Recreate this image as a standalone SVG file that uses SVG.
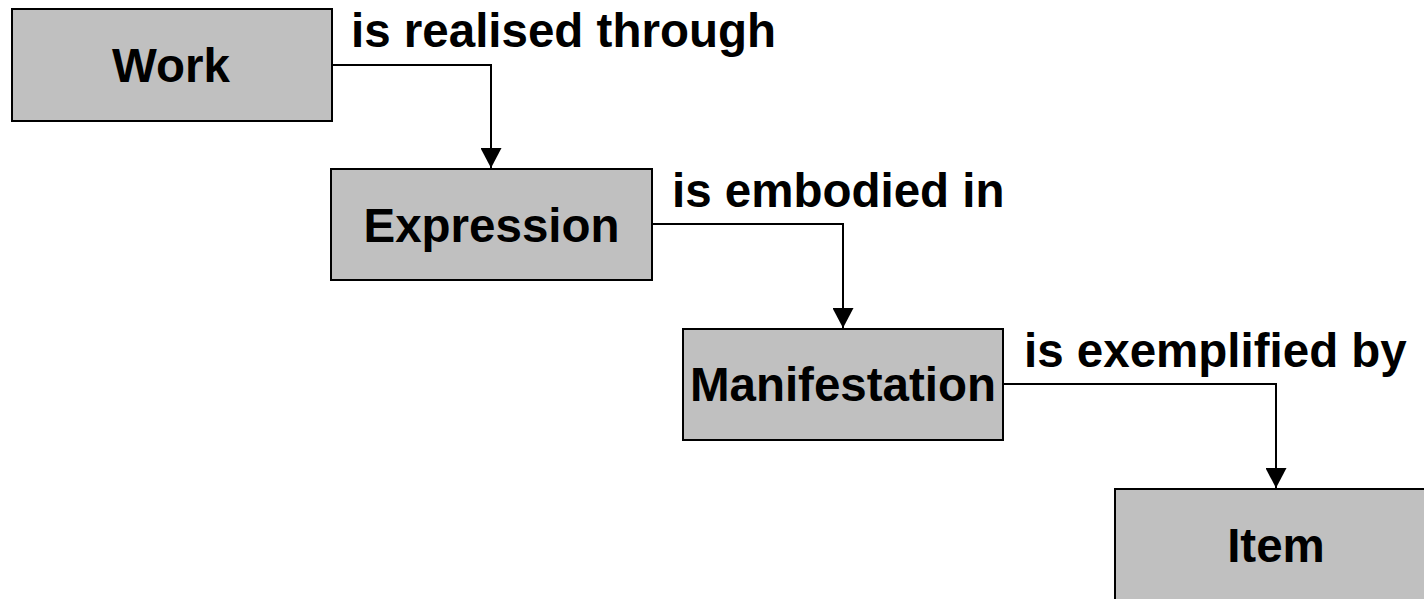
<svg xmlns="http://www.w3.org/2000/svg" width="1424" height="599" viewBox="0 0 1424 599">
<style>
.box{fill:#c0c0c0;stroke:#000;stroke-width:2}
.t{font-family:"Liberation Sans",Arial,sans-serif;font-weight:bold;font-size:47.5px;fill:#000}
.c{text-anchor:middle}
.edge{fill:none;stroke:#000;stroke-width:2}
</style>
<defs>
<marker id="arr" markerUnits="userSpaceOnUse" markerWidth="21" markerHeight="21" viewBox="0 0 20 21" refX="20" refY="10.5" orient="auto">
<path d="M0,0 L20,10.5 L0,21 z" fill="#000"/>
</marker>
</defs>
<rect width="1424" height="599" fill="#fff"/>
<g id="connectors">
<path class="edge" d="M332,65 H491 V168" marker-end="url(#arr)"/>
<path class="edge" d="M652,224 H843 V328" marker-end="url(#arr)"/>
<path class="edge" d="M1003,384 H1276 V488" marker-end="url(#arr)"/>
<text class="t" x="351" y="47">is realised through</text>
<text class="t" x="672" y="207">is embodied in</text>
<text class="t" x="1024" y="367">is exemplified by</text>
</g>
<g id="work">
<rect class="box" x="12" y="9" width="320" height="112"/>
<text class="t c" x="171" y="82">Work</text>
</g>
<g id="expression">
<rect class="box" x="331" y="169" width="321" height="111"/>
<text class="t c" x="491.5" y="242">Expression</text>
</g>
<g id="manifestation">
<rect class="box" x="683" y="329" width="320" height="111"/>
<text class="t c" x="843" y="401">Manifestation</text>
</g>
<g id="item">
<rect class="box" x="1115" y="489" width="320" height="112"/>
<text class="t c" x="1276" y="562">Item</text>
</g>
</svg>
